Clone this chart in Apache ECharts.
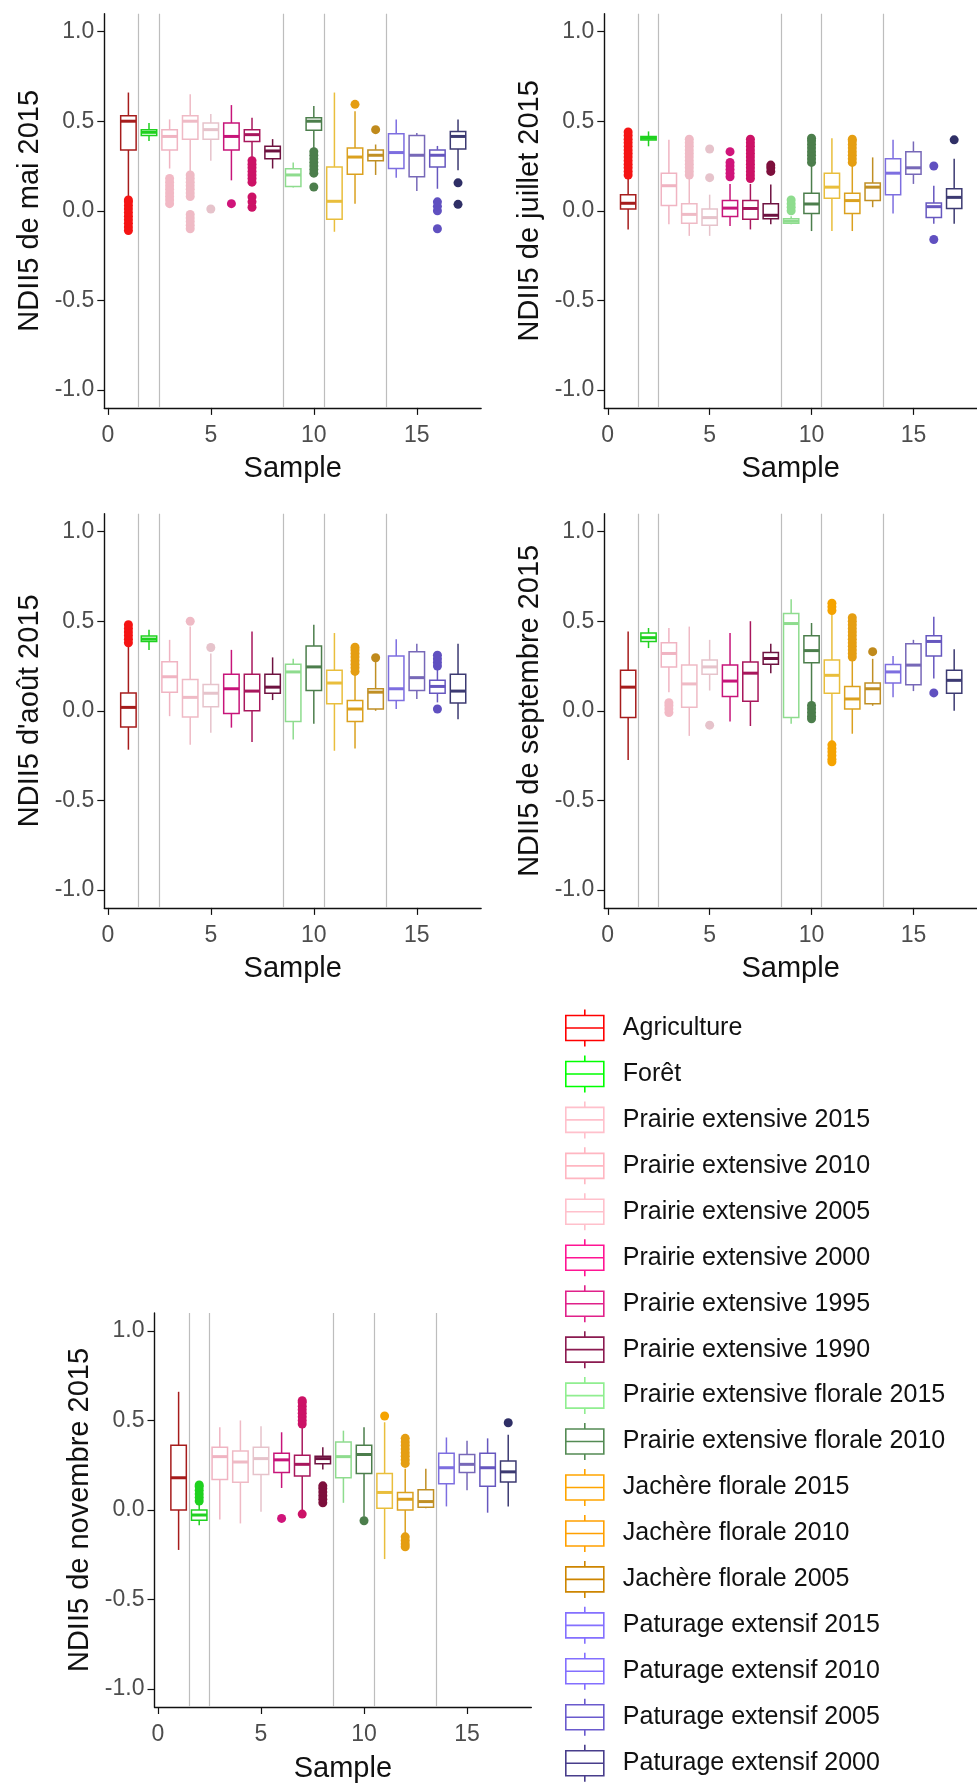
<!DOCTYPE html>
<html><head><meta charset="utf-8">
<script src="https://cdn.jsdelivr.net/npm/echarts@6/dist/echarts.min.js"></script>
<style>html,body{margin:0;padding:0;background:#fff}#c{width:977px;height:1784px}</style>
</head><body><div id="c"></div>
<script>
// ---------- DATA ----------
const categories = ['Agriculture','Forêt','Prairie extensive 2015','Prairie extensive 2010','Prairie extensive 2005','Prairie extensive 2000','Prairie extensive 1995','Prairie extensive 1990','Prairie extensive florale 2015','Prairie extensive florale 2010','Jachère florale 2015','Jachère florale 2010','Jachère florale 2005','Paturage extensif 2015','Paturage extensif 2010','Paturage extensif 2005','Paturage extensif 2000'];
const yTicks = [-1, -0.5, 0, 0.5, 1];
const xTicks = [0, 5, 10, 15];
const separators = [1.5, 2.5, 8.5, 10.5, 13.5];
const panelTitles = ['NDII5 de mai 2015', 'NDII5 de juillet 2015', "NDII5 d'août 2015", 'NDII5 de septembre 2015', 'NDII5 de novembre 2015'];
const xTitle = 'Sample';

// [min whisker, Q1, median, Q3, max whisker] per sample
const mai = [[0.08,0.34,0.50,0.53,0.66],[0.39,0.42,0.438,0.453,0.49],[0.236,0.34,0.415,0.453,0.51],[0.22,0.40,0.50,0.53,0.65],[0.28,0.40,0.453,0.49,0.54],[0.17,0.34,0.415,0.49,0.59],[0.30,0.387,0.425,0.453,0.52],[0.236,0.29,0.334,0.36,0.40],[0.13,0.135,0.20,0.235,0.27],[0.34,0.45,0.50,0.52,0.585],[-0.117,-0.047,0.053,0.245,0.66],[0.04,0.204,0.30,0.35,0.556],[0.20,0.28,0.31,0.34,0.37],[0.185,0.236,0.325,0.43,0.51],[0.11,0.19,0.31,0.42,0.434],[0.123,0.245,0.31,0.34,0.362],[0.226,0.345,0.415,0.443,0.51]];
const maiOut = [[-0.11,-0.09,-0.07,-0.05,-0.03,-0.01,0.01,0.03,0.05,0.06],[],[0.04,0.06,0.08,0.10,0.12,0.14,0.16,0.18],[0.08,0.10,0.12,0.14,0.16,0.18,0.20,-0.10,-0.08,-0.06,-0.04,-0.02],[0.01],[0.04],[0.16,0.18,0.20,0.22,0.24,0.26,0.28,0.02,0.05,0.077],[],[],[0.21,0.23,0.25,0.27,0.29,0.31,0.33,0.133],[],[0.594],[0.453],[],[],[0.0,0.025,0.05,-0.10],[0.156,0.036]];

const juillet = [[-0.104,0.01,0.042,0.09,0.19],[0.36,0.395,0.405,0.415,0.443],[-0.075,0.03,0.14,0.21,0.396],[-0.14,-0.07,-0.02,0.04,0.19],[-0.14,-0.08,-0.038,0.01,0.09],[-0.085,-0.032,0.015,0.057,0.15],[-0.104,-0.047,0.013,0.057,0.15],[-0.075,-0.045,-0.025,0.04,0.147],[-0.075,-0.07,-0.058,-0.045,-0.03],[-0.113,-0.015,0.038,0.098,0.264],[-0.113,0.07,0.132,0.21,0.405],[-0.113,-0.015,0.057,0.098,0.255],[0.02,0.057,0.132,0.155,0.298],[-0.015,0.09,0.21,0.29,0.396],[0.15,0.204,0.24,0.33,0.387],[-0.072,-0.038,0.023,0.043,0.14],[-0.072,0.013,0.075,0.123,0.29]];
const juilletOut = [[0.20,0.22,0.24,0.26,0.28,0.30,0.32,0.34,0.36,0.38,0.40,0.42,0.44],[],[],[0.20,0.22,0.24,0.26,0.28,0.30,0.32,0.34,0.36,0.38,0.40],[0.185,0.345],[0.19,0.21,0.23,0.25,0.27,0.33],[0.18,0.20,0.22,0.24,0.26,0.28,0.30,0.32,0.34,0.36,0.38,0.40],[0.22,0.24,0.255],[0.0,0.02,0.04,0.06],[0.27,0.29,0.31,0.33,0.35,0.37,0.39,0.405],[],[0.27,0.29,0.31,0.33,0.35,0.37,0.39,0.40],[],[],[],[0.25,-0.16],[0.396]];

const aout = [[-0.217,-0.09,0.019,0.10,0.374],[0.34,0.387,0.40,0.418,0.453],[-0.03,0.104,0.19,0.274,0.396],[-0.19,-0.034,0.075,0.174,0.47],[-0.123,0.023,0.098,0.147,0.32],[-0.094,-0.015,0.123,0.204,0.34],[-0.174,0.0,0.11,0.204,0.443],[0.06,0.098,0.132,0.204,0.298],[-0.16,-0.06,0.217,0.26,0.29],[-0.072,0.113,0.245,0.362,0.48],[-0.223,0.04,0.155,0.226,0.434],[-0.21,-0.06,0.01,0.057,0.207],[0.0,0.01,0.104,0.123,0.28],[0.01,0.057,0.123,0.306,0.40],[0.066,0.113,0.185,0.33,0.374],[0.047,0.098,0.136,0.17,0.236],[-0.047,0.043,0.11,0.204,0.374]];
const aoutOut = [[0.38,0.40,0.42,0.44,0.46,0.48],[],[],[0.50],[0.353],[],[],[],[],[],[],[0.22,0.24,0.26,0.28,0.30,0.32,0.34,0.355],[0.296],[],[],[0.25,0.27,0.29,0.31,0.01],[]];

const septembre = [[-0.274,-0.038,0.132,0.226,0.443],[0.35,0.387,0.408,0.434,0.462],[0.104,0.245,0.32,0.38,0.462],[-0.14,0.02,0.15,0.255,0.47],[0.113,0.204,0.245,0.283,0.396],[-0.06,0.08,0.166,0.255,0.434],[-0.085,0.053,0.21,0.272,0.50],[0.21,0.26,0.292,0.325,0.374],[-0.072,-0.038,0.487,0.543,0.623],[0.04,0.268,0.336,0.419,0.49],[-0.18,0.098,0.198,0.283,0.547],[-0.128,0.01,0.066,0.136,0.29],[0.028,0.04,0.123,0.155,0.29],[0.075,0.155,0.217,0.258,0.306],[0.11,0.145,0.255,0.374,0.396],[0.18,0.306,0.387,0.419,0.525],[0.0,0.098,0.17,0.226,0.343]];
const septembreOut = [[],[],[-0.01,0.01,0.03,0.045],[],[-0.08],[],[],[],[],[-0.045,-0.03,-0.01,0.01,0.03],[0.56,0.58,0.60,-0.19,-0.21,-0.23,-0.25,-0.27,-0.285],[0.30,0.32,0.34,0.36,0.38,0.40,0.42,0.44,0.46,0.48,0.50,0.52],[0.33],[],[],[0.10],[]];

const novembre = [[-0.223,0.0,0.18,0.362,0.66],[-0.085,-0.057,-0.028,0.0,0.038],[-0.053,0.17,0.298,0.35,0.462],[-0.075,0.155,0.268,0.33,0.50],[-0.01,0.198,0.287,0.35,0.468],[0.123,0.21,0.28,0.317,0.434],[0.0,0.19,0.255,0.306,0.47],[0.226,0.258,0.287,0.30,0.35],[0.04,0.18,0.298,0.38,0.443],[-0.038,0.204,0.31,0.362,0.462],[-0.274,0.01,0.098,0.204,0.49],[-0.14,0.0,0.06,0.098,0.23],[0.01,0.015,0.047,0.113,0.23],[0.02,0.147,0.236,0.317,0.405],[0.11,0.21,0.255,0.31,0.387],[-0.015,0.132,0.236,0.317,0.40],[0.019,0.157,0.213,0.274,0.42]];
const novembreOut = [[],[0.05,0.07,0.09,0.11,0.13,0.14],[],[],[],[-0.047],[0.48,0.50,0.52,0.54,0.56,0.58,0.60,0.61,-0.023],[0.04,0.06,0.08,0.10,0.12,0.135],[],[-0.06],[0.525],[0.26,0.28,0.30,0.32,0.34,0.36,0.38,0.40,-0.15,-0.17,-0.19,-0.205],[],[],[],[],[0.487]];

// ---------- STYLE ----------
const legendColors = ['#ff0000','#00ff00','#ffc0cb','#ffb6c1','#ffc0cb','#ff1493','#e0218a','#8b1a50','#90ee90','#548b54','#ffa500','#ffa000','#cd8500','#8470ff','#836fff','#6a5acd','#483d8b'];
const boxColors = ['#a61c1c','#1fd11f','#f0b4c2','#efbac5','#e6c3cb','#c7157a','#a8175c','#6e1240','#8edc8e','#4c7e4c','#e9be3c','#dba11f','#c08f24','#7d6ee0','#7768b8','#6657bf','#3c3a72'];
const pointColors = ['#f51414','#1fd11f','#f2b9c5','#efbac5','#e6c3cb','#d0147a','#cc1266','#7d0f3c','#8edc8e','#4c7e4c','#f5a300','#e59e12','#c08a1c','#7d6ee0','#7768b8','#6050c0','#2f2f66'];
const FONT = "'Liberation Sans', Arial, sans-serif";
const BOX_WIDTH = 0.75;
const gridPos = [[104.3,13.7],[604.3,13.7],[104.3,513.7],[604.3,513.7],[154.5,1313]];
const GRID_W = 376.8, GRID_H = 394.2;

const panelStats = [mai, juillet, aout, septembre, novembre];
const panelOut = [maiOut, juilletOut, aoutOut, septembreOut, novembreOut];

function makeRender(col) {
  return function (params, api) {
    const x = api.value(0);
    const lo = api.coord([x, api.value(1)]);
    const q1 = api.coord([x, api.value(2)]);
    const md = api.coord([x, api.value(3)]);
    const q3 = api.coord([x, api.value(4)]);
    const hi = api.coord([x, api.value(5)]);
    const w = api.size([BOX_WIDTH, 0])[0];
    const cx = md[0];
    const ln = {stroke: col, lineWidth: 1.5};
    return {type: 'group', children: [
      {type: 'line', shape: {x1: cx, y1: hi[1], x2: cx, y2: q3[1]}, style: ln},
      {type: 'line', shape: {x1: cx, y1: q1[1], x2: cx, y2: lo[1]}, style: ln},
      {type: 'rect', shape: {x: cx - w / 2, y: q3[1], width: w, height: q1[1] - q3[1]}, style: {fill: '#fff', stroke: col, lineWidth: 1.5}},
      {type: 'line', shape: {x1: cx - w / 2, y1: md[1], x2: cx + w / 2, y2: md[1]}, style: {stroke: col, lineWidth: 3}}
    ]};
  };
}

const grids = [], xAxes = [], yAxes = [], series = [];
panelStats.forEach(function (stats, p) {
  grids.push({left: gridPos[p][0], top: gridPos[p][1], width: GRID_W, height: GRID_H, containLabel: false});
  xAxes.push({
    type: 'value', gridIndex: p, min: -0.17, max: 18.12,
    name: xTitle, nameLocation: 'middle', nameGap: 47,
    nameTextStyle: {fontFamily: FONT, fontSize: 29, color: '#111'},
    axisLine: {show: true, onZero: false, lineStyle: {color: '#111', width: 1.4}},
    axisTick: {show: true, length: 7, customValues: xTicks, lineStyle: {color: '#111', width: 1.2}},
    axisLabel: {customValues: xTicks, margin: 16, fontFamily: FONT, fontSize: 23, color: '#4d4d4d'},
    splitLine: {show: false}
  });
  yAxes.push({
    type: 'value', gridIndex: p, min: -1.1, max: 1.1,
    name: panelTitles[p], nameLocation: 'middle', nameGap: 60,
    nameTextStyle: {fontFamily: FONT, fontSize: 29, color: '#111'},
    axisLine: {show: true, onZero: false, lineStyle: {color: '#111', width: 1.4}},
    axisTick: {show: true, length: 7, customValues: yTicks, lineStyle: {color: '#111', width: 1.2}},
    axisLabel: {customValues: yTicks, margin: 10, fontFamily: FONT, fontSize: 23, color: '#4d4d4d',
      formatter: function (v) { return Number(v).toFixed(1); }},
    splitLine: {show: false}
  });
  series.push({
    type: 'line', name: 'separators', xAxisIndex: p, yAxisIndex: p, data: [], silent: true, z: 1,
    markLine: {silent: true, symbol: ['none', 'none'], label: {show: false}, animation: false,
      lineStyle: {color: '#bdbdbd', width: 1.2, type: 'solid'},
      emphasis: {disabled: true},
      data: separators.map(function (v) { return {xAxis: v}; })}
  });
  stats.forEach(function (s, i) {
    series.push({
      type: 'custom', name: categories[i], xAxisIndex: p, yAxisIndex: p, z: 3,
      renderItem: makeRender(boxColors[i]), itemStyle: {color: legendColors[i]},
      encode: {x: 0, y: [1, 2, 3, 4, 5]}, clip: false,
      data: [[i + 1].concat(s)]
    });
    const o = panelOut[p][i];
    if (o.length) {
      series.push({
        type: 'scatter', name: categories[i], xAxisIndex: p, yAxisIndex: p, z: 4,
        symbol: 'circle', symbolSize: 9, itemStyle: {color: pointColors[i], opacity: 1},
        data: o.map(function (v) { return [i + 1, v]; })
      });
    }
  });
});

const ICON = 'path://M19,0L19,6M0,6L38,6L38,31L0,31ZM0,18.5L38,18.5M19,31L19,37';
const option = {
  backgroundColor: '#fff',
  animation: false,
  grid: grids, xAxis: xAxes, yAxis: yAxes,
  legend: {
    orient: 'vertical', left: 565, top: 1008.7, height: 790, padding: 0,
    itemWidth: 38, itemHeight: 37, itemGap: 7.35,
    textStyle: {fontFamily: FONT, fontSize: 25, color: '#111', padding: [0, 0, 0, 14]},
    data: categories.map(function (n, i) {
      return {name: n, icon: ICON, itemStyle: {color: '#fff', borderColor: legendColors[i], borderWidth: 1.6}};
    })
  },
  series: series
};
const chart = echarts.init(document.getElementById('c'), null, {renderer: 'canvas'});
chart.setOption(option);
</script></body></html>
